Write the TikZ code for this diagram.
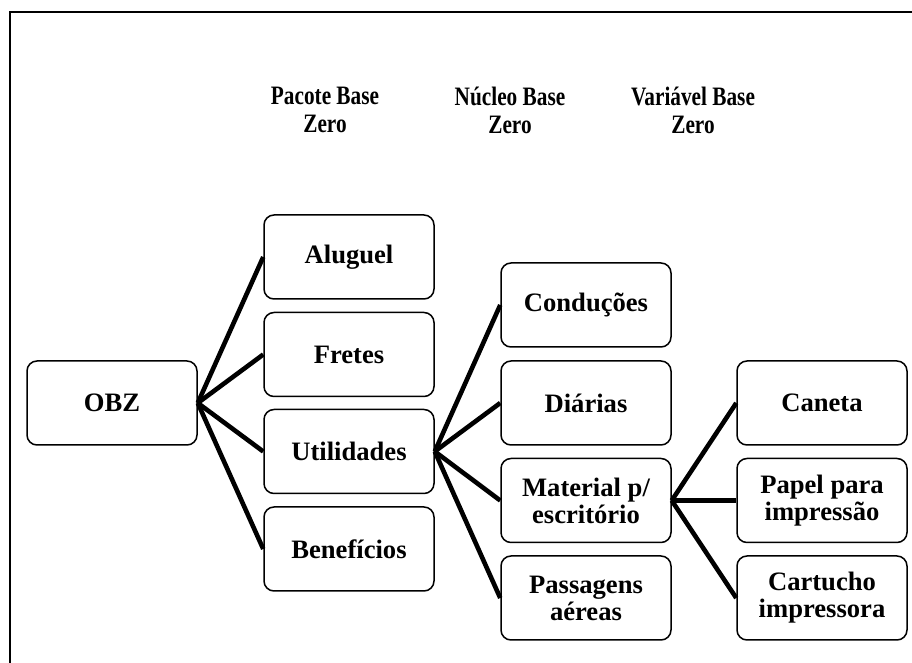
\documentclass[tikz,border=0pt]{standalone}
\usepackage{fontspec}
\setmainfont{Liberation Serif}
\newfontfamily\headfont[FakeStretch=0.8]{Liberation Serif}

\begin{document}
\begin{tikzpicture}[x=0.5pt,y=-0.5pt,
		box/.style={draw, rounded corners=5pt, line width=0.75pt, minimum width=85pt, minimum height=42pt, inner sep=0pt, align=center, font=\fontsize{13.3}{13.5}\selectfont\bfseries},
		head/.style={align=center, inner sep=0pt, font=\headfont\fontsize{13.3}{14}\selectfont\bfseries},
		link/.style={line width=2.3pt}
	]
	\useasboundingbox (0,0) rectangle (912,663);
	\draw[line width=1.1pt] (10,663) -- (10,12) -- (912,12);

	\node[head] (hpac) at (325,110) {Pacote Base\\Zero};
	\node[head] (hnuc) at (510,110) {Núcleo Base\\Zero};
	\node[head] (hvar) at (693,110) {Variável Base\\Zero};

	\node[box] (obz) at (112,403) {OBZ};

	\node[box] (alug) at (349,257) {Aluguel};
	\node[box] (fret) at (349,354.5) {Fretes};
	\node[box] (util) at (349,451.5) {Utilidades};
	\node[box] (bene) at (349,549) {Benefícios};

	\node[box] (cond) at (586,305) {Conduções};
	\node[box] (diar) at (586,403) {Diárias};
	\node[box] (mate) at (586,500.5) {Material p/\\escritório};
	\node[box] (pass) at (586,598) {Passagens\\aéreas};

	\node[box] (cane) at (822,403) {Caneta};
	\node[box] (pape) at (822,500.5) {Papel para\\impressão};
	\node[box] (cart) at (822,598) {Cartucho\\impressora};

	% OBZ -> pacotes
	\draw[link] (obz.east) -- (alug.west);
	\draw[link] (obz.east) -- (fret.west);
	\draw[link] (obz.east) -- (util.west);
	\draw[link] (obz.east) -- (bene.west);
	% Utilidades -> nucleo
	\draw[link] (util.east) -- (cond.west);
	\draw[link] (util.east) -- (diar.west);
	\draw[link] (util.east) -- (mate.west);
	\draw[link] (util.east) -- (pass.west);
	% Material -> variavel
	\draw[link] (mate.east) -- (cane.west);
	\draw[link] (mate.east) -- (pape.west);
	\draw[link] (mate.east) -- (cart.west);
\end{tikzpicture}
\end{document}
